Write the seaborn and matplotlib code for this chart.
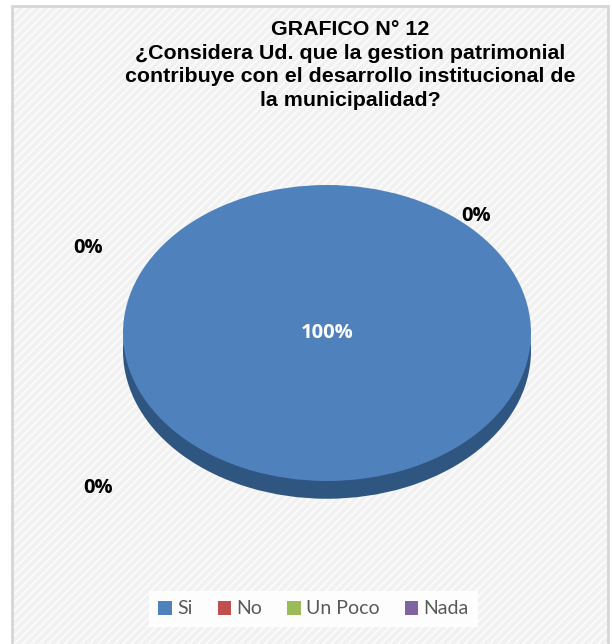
import numpy as np
import matplotlib
matplotlib.use('Agg')
import matplotlib.pyplot as plt
import matplotlib.patches as mpatches
import seaborn as sns

# data
categories = ['Si', 'No', 'Un Poco', 'Nada']
values = [100, 0, 0, 0]
pct_labels = ['100%', '0%', '0%', '0%']
title_lines = ['GRAFICO N° 12',
               '¿Considera Ud. que la gestion patrimonial',
               'contribuye con el desarrollo institucional de',
               'la municipalidad?']

sns.set_theme(style='white')
palette = sns.color_palette(['#4f81bd', '#c0504d', '#9bbb59', '#8064a2'])
side_colors = ['#2f5581', '#8e3b39', '#738a42', '#5e4a78']

W, H = 612, 644
fig = plt.figure(figsize=(W / 100, H / 100), dpi=100)
fig.patch.set_facecolor('white')

# chart area background with light diagonal texture + frame
plt.rcParams['hatch.linewidth'] = 1.5
bg = mpatches.Rectangle((12 / W, 0), 596 / W, 1 - 6 / H, transform=fig.transFigure,
                        facecolor='#f1f1f1', edgecolor='#fbfbfb', hatch='////',
                        linewidth=0, zorder=-5)
fig.patches.append(bg)
frame = mpatches.Rectangle((12 / W, -0.01), 596 / W, 1 - 6 / H + 0.01, transform=fig.transFigure,
                           facecolor='none', edgecolor='#d6d6d6', linewidth=2, zorder=-4)
fig.patches.append(frame)

ax = fig.add_axes([0, 0, 1, 1])
ax.set_facecolor('none')
ax.set_zorder(2)

# side of the 3D pie (dark copy shifted down), then the top face
ax.pie(values, colors=side_colors, startangle=90, counterclock=False,
       center=(0, -0.12), radius=1.0, wedgeprops={'linewidth': 0})
wedges, _ = ax.pie(values, colors=palette, startangle=90, counterclock=False,
                   center=(0, 0), radius=1.0, wedgeprops={'linewidth': 0})

# stretch the unit circle into the flat ellipse of the picture
cx, cy, rx, ry = 327, 333, 204, 148
ax.set_aspect('auto')
ax.set_xlim(-cx / rx, (W - cx) / rx)
ax.set_ylim(-(H - cy) / ry, cy / ry)
ax.axis('off')

lbl_font = ['Open Sans', 'DejaVu Sans']
ax.text(0, 0, pct_labels[0], color='white', fontsize=14.5, fontweight='bold',
        family=lbl_font, ha='center', va='center')
label_pos = [(88, 248), (476, 216), (98, 488)]
for lab, (px, py) in zip(pct_labels[1:], label_pos):
    fig.text(px / W, 1 - py / H, lab, color='black', fontsize=14.5, fontweight='bold',
             family=lbl_font, ha='center', va='center')

fig.text(350 / W, 1 - 65 / H, '\n'.join(title_lines), ha='center', va='center',
         fontsize=15.4, fontweight='bold', family=['Liberation Sans', 'DejaVu Sans'],
         linespacing=1.32, color='black')

leg = fig.legend(wedges, categories, loc='center', bbox_to_anchor=(0.512, 1 - 609 / H),
                 ncol=4, frameon=True, facecolor='white', edgecolor='none', framealpha=0.9,
                 handlelength=0.7, handleheight=0.7, handletextpad=0.25,
                 columnspacing=1.3, prop={'family': 'Lato', 'size': 14},
                 borderpad=0.5, fancybox=False)
for t in leg.get_texts():
    t.set_color('#595959')

plt.savefig('out.png', dpi=100)
